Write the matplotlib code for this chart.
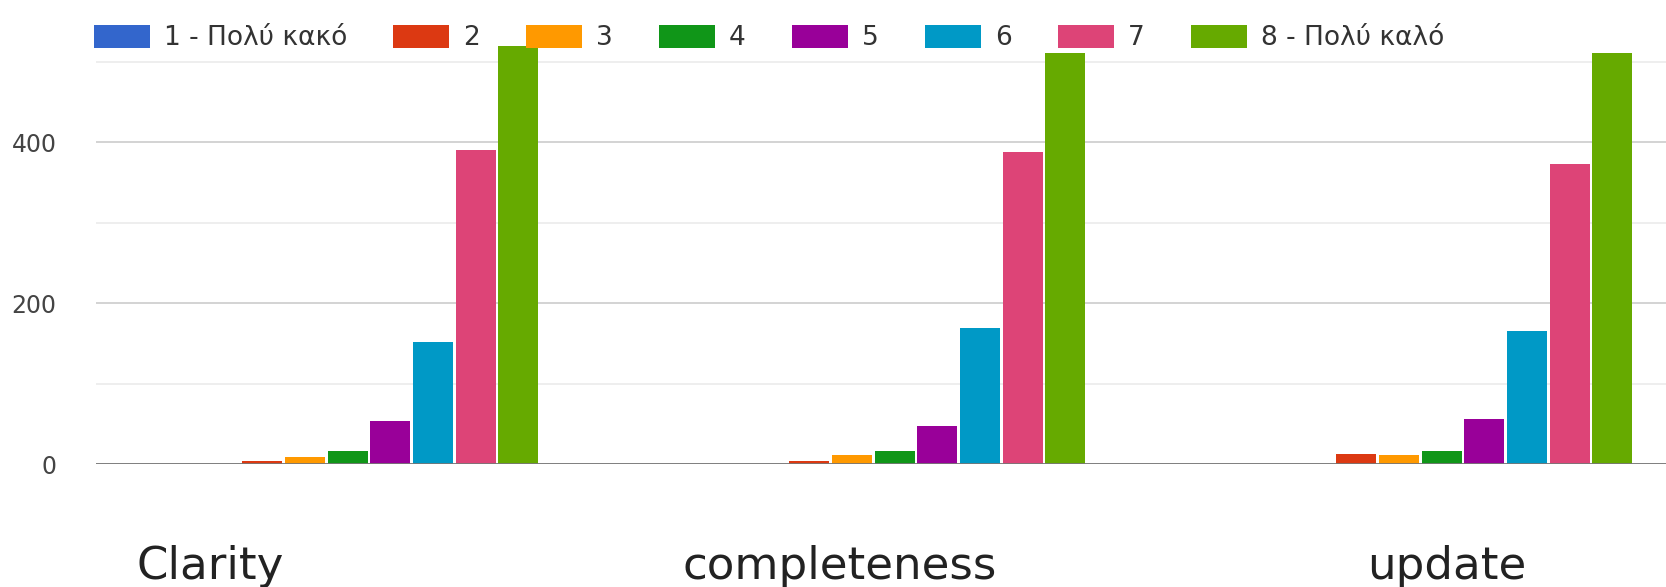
import numpy as np
import matplotlib.pyplot as plt
from matplotlib.ticker import MultipleLocator

categories = ["Clarity", "completeness", "update"]
series_names = ["1 - Πολύ κακό", "2", "3", "4", "5", "6", "7", "8 - Πολύ καλό"]
colors = ["#3366cc", "#dc3912", "#ff9900", "#109618",
          "#990099", "#0099c6", "#dd4477", "#66aa00"]

# rows = rating, columns = category
clarity = [0, 4, 9, 16, 54, 152, 390, 520]
completeness = [0, 4, 12, 16, 48, 169, 388, 511]
update = [0, 13, 12, 16, 56, 165, 373, 511]
values = np.array([clarity, completeness, update]).T

W, H = 1666, 587
fig = plt.figure(figsize=(W / 100, H / 100), dpi=100)
ax = fig.add_axes([95.5 / W, (H - 464.3) / H, 1 - 95.5 / W, 464.3 / H])

x = np.arange(len(categories))
step = 0.078
bw = 0.073
for i, name in enumerate(series_names):
    ax.bar(x + (i - 3.5) * step, values[i], bw, color=colors[i],
           label=name, zorder=3)

ax.set_xlim(-0.5, 2.371)
ax.set_ylim(0, 464.3 / 0.805)
ax.yaxis.set_major_locator(MultipleLocator(200))
ax.yaxis.set_minor_locator(MultipleLocator(100))
ax.grid(axis="y", which="major", color="#cccccc", lw=1.2, zorder=0)
ax.grid(axis="y", which="minor", color="#ebebeb", lw=1.2, zorder=0)
ax.axhline(0, color="#777777", lw=2, zorder=4)
ax.set_xticks([])
ax.tick_params(axis="y", which="both", length=0, pad=28,
               labelsize=17, labelcolor="#444444")
for s in ax.spines.values():
    s.set_visible(False)

# legend sized so the swatches stay ~56x26 px
fig.legend(loc="upper left", bbox_to_anchor=(94 / W, 1 - 25 / H),
           ncol=8, frameon=False, fontsize=19, labelcolor="#333333",
           handlelength=2.12, handleheight=0.95, handletextpad=0.53,
           columnspacing=1.75, borderpad=0, borderaxespad=0)

label_x = [210, 840, 1447]
for lx, cat in zip(label_x, categories):
    fig.text(lx / W, 1 - 579 / H, cat, ha="center", va="baseline",
             fontsize=32.5, color="#222222")

fig.savefig("out.png", dpi=100)
